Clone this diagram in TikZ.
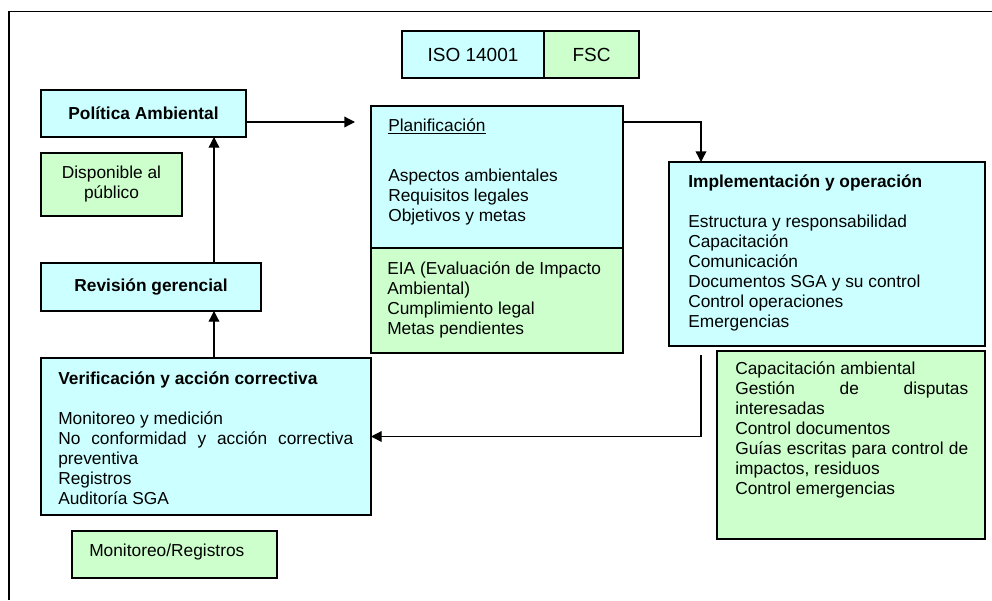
\documentclass[tikz,border=0pt]{standalone}
\usepackage{fontspec}
\setmainfont{Liberation Sans}
\usetikzlibrary{positioning,calc,arrows.meta}
\definecolor{isoblue}{RGB}{204,255,255}
\definecolor{fscgreen}{RGB}{204,255,204}
\hyphenpenalty=10000
\exhyphenpenalty=10000
\tolerance=9999
\tikzset{
bluebox/.style = {draw, fill=isoblue, rectangle, line width=1pt, inner sep=0pt, outer sep=0pt},
greenbox/.style = {draw, fill=fscgreen, rectangle, line width=1pt, inner sep=0pt, outer sep=0pt},
normbox/.style = {minimum height=35.25pt, font=\fontsize{14.25}{17}\selectfont},
txt/.style = {anchor=north west, inner sep=0pt, align=left},
jtxt/.style = {anchor=north west, inner sep=0pt, align=justify},
flow/.style = {->, line width=1pt}
}

\begin{document}
\begin{tikzpicture}[x=0.75pt, y=-0.75pt, font=\fontsize{13}{15}\selectfont, >={Triangle[length=8pt,width=8pt]}]
\useasboundingbox (0,0) rectangle (992,600);
\draw[line width=1pt] (992,11.5) -- (9,11.5) -- (9,600);
% normas
\node[bluebox, normbox, minimum width=106.5pt] (iso) at (473,54.5) {ISO 14001};
\node[greenbox, normbox, minimum width=71.25pt, right=0pt of iso] (fsc) {FSC};
% columna izquierda
\node[bluebox, minimum width=153.75pt, minimum height=35.25pt] (pol) at (143.5,113.5) {\textbf{Política Ambiental}};
\node[greenbox, minimum width=105.75pt, minimum height=47.25pt, align=center] (disp) at (111.5,184.5) {Disponible al\\público};
\node[bluebox, minimum width=165pt, minimum height=36pt] (rev) at (151,287) {\textbf{Revisión gerencial}};
\node[bluebox, minimum width=247.5pt, minimum height=117.75pt] (verif) at (206,436.5) {};
\node[jtxt, text width=221.25pt] (verift) at (58,372) {\textbf{Verificación y acción correctiva}\par\vspace{15pt}Monitoreo y medición\par No conformidad y acción correctiva preventiva\par Registros\par Auditoría SGA};
\node[greenbox, minimum width=153.75pt, minimum height=35.25pt] (mon) at (174.5,554.5) {};
\node[anchor=base west, inner sep=0pt] (mont) at (89,556) {Monitoreo/Registros};
% planificacion
\node[bluebox, minimum width=189pt, minimum height=106.5pt] (plan) at (497,177) {};
\node[greenbox, minimum width=189pt, minimum height=78.75pt, below=0pt of plan] (eia) {};
\node[txt] (plant) at (388,118.5) {\underline{Planificación}\\[22.5pt]Aspectos ambientales\\Requisitos legales\\Objetivos y metas};
\node[txt] (eiat) at (387,261.5) {EIA (Evaluación de Impacto\\Ambiental)\\Cumplimiento legal\\Metas pendientes};
% implementacion
\node[bluebox, minimum width=237pt, minimum height=138pt] (impl) at (827,254) {};
\node[txt] (implt) at (688,174.5) {\textbf{Implementación y operación}\\[15pt]Estructura y responsabilidad\\Capacitación\\Comunicación\\Documentos SGA y su control\\Control operaciones\\Emergencias};
\node[greenbox, minimum width=201pt, minimum height=141pt] (gest) at (851,445) {};
\node[jtxt, text width=174.75pt] (gestt) at (735,361.5) {Capacitación ambiental\par Gestión de disputas interesadas\par Control documentos\par Guías escritas para control de impactos, residuos\par Control emergencias};
% conectores
\coordinate (k1) at (701,122);
\coordinate (k2) at (701,355);
\coordinate (k3) at (355,122);
\coordinate (vx) at (214,0);
\draw[flow] (pol.east |- k3) -- (k3);
\draw[flow] (plan.east |- k1) -- (k1) -- (impl.north -| k1);
\draw[flow] (k2) |- (verif.east);
\draw[flow] (rev.north -| vx) -- (pol.south -| vx);
\draw[flow] (verif.north -| vx) -- (rev.south -| vx);
\end{tikzpicture}
\end{document}
